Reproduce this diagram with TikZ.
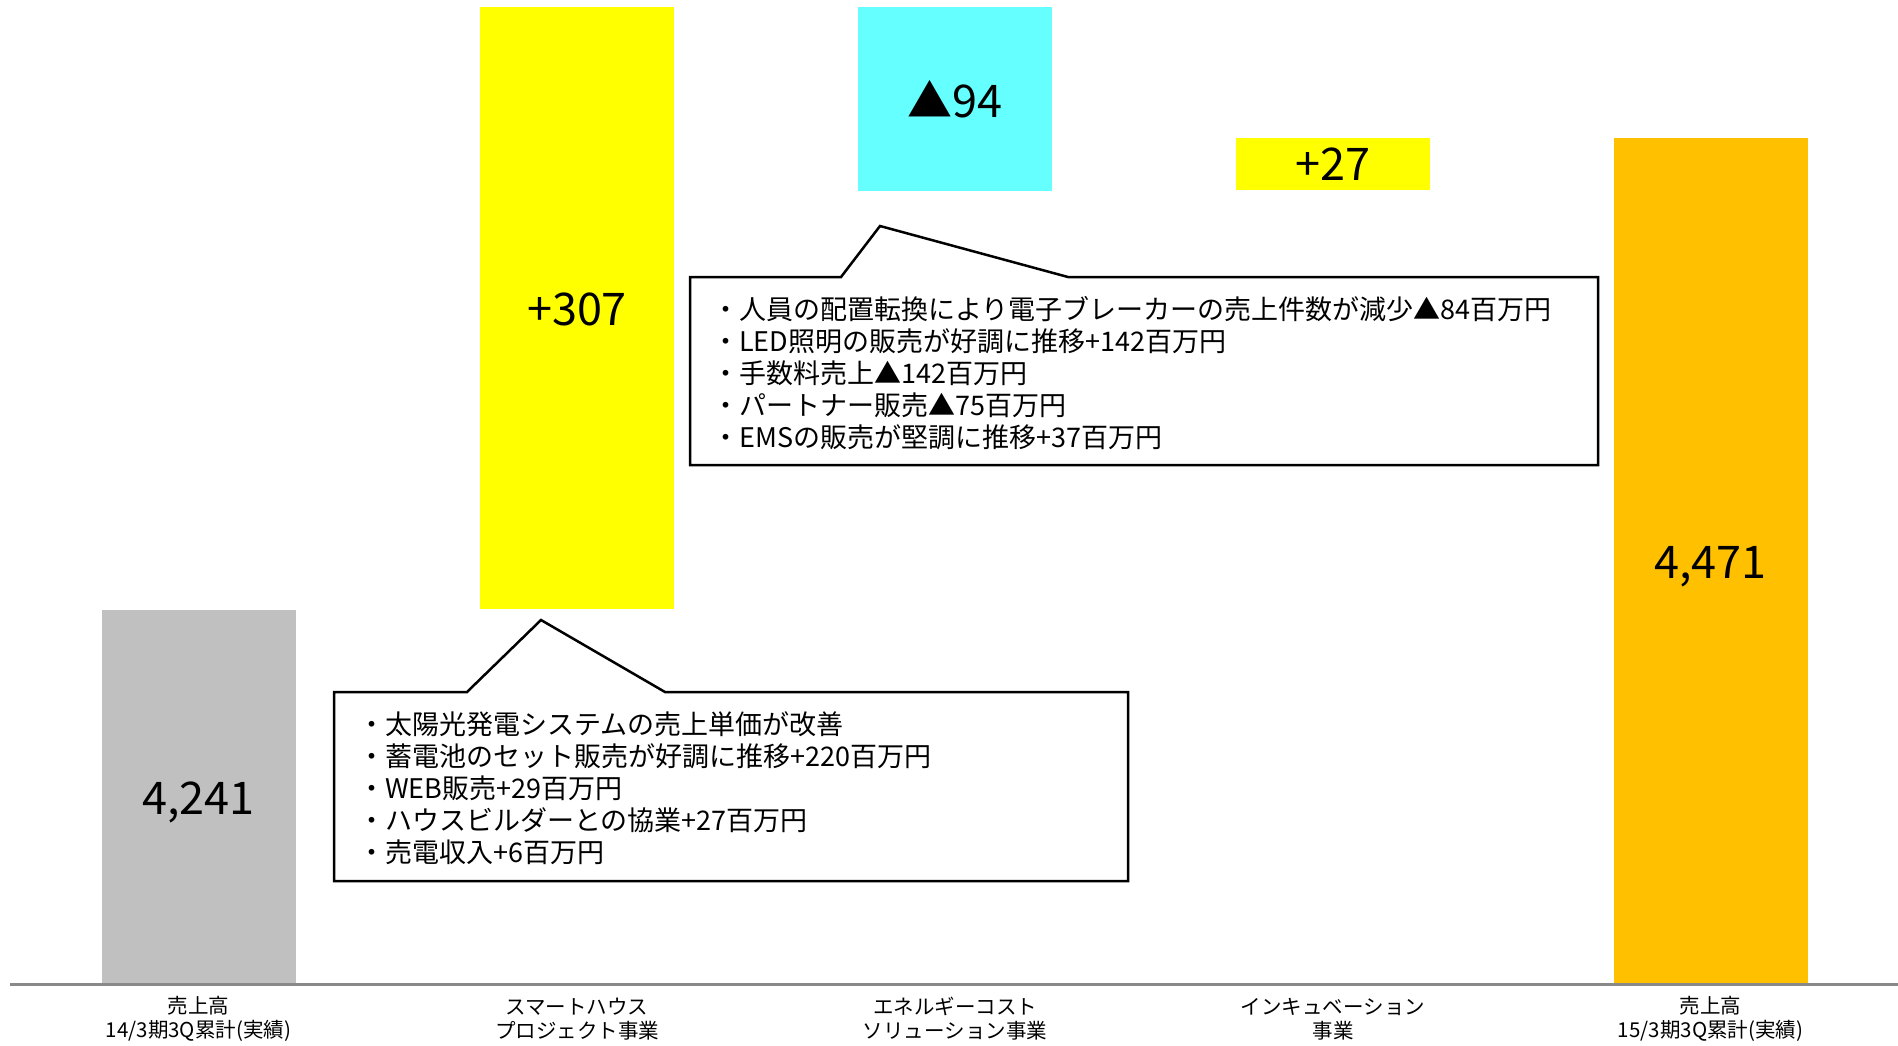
\documentclass[tikz,border=0pt]{standalone}
\usepackage{fontspec}
\setmainfont{Noto Sans CJK JP}
\begin{document}
\begin{tikzpicture}[x=1pt,y=-1pt,
  bar/.style={draw=none,inner sep=0pt,outer sep=0pt,minimum width=194pt},
  val/.style={inner sep=0pt,font=\fontsize{45}{50}\selectfont},
  callout/.style={draw=black,line width=2.5pt,fill=white,line join=miter},
  notes/.style={align=left,inner sep=0pt,anchor=west,font=\fontsize{27}{32}\selectfont},
  axislbl/.style={align=center,inner sep=0pt,font=\fontsize{20.5}{24}\selectfont}]
\definecolor{cgray}{HTML}{C0C0C0}
\definecolor{cyel}{HTML}{FFFF00}
\definecolor{ccyan}{HTML}{66FFFF}
\definecolor{corange}{HTML}{FFC000}
\definecolor{caxis}{HTML}{898989}
\useasboundingbox[fill=white] (0,0) rectangle (1898,1045);
% bars
\node[bar,fill=cgray,minimum height=374pt] (b1) at (198.5,797) {};
\node[bar,fill=cyel,minimum height=602pt] (b2) at (577,308) {};
\node[bar,fill=ccyan,minimum height=184pt] (b3) at (955,99) {};
\node[bar,fill=cyel,minimum height=52pt] (b4) at (1333,164) {};
\node[bar,fill=corange,minimum height=846pt] (b5) at (1710.5,561) {};
\node[val,yshift=-5pt] (v1) at (b1.center) {4,241};
\node[val,yshift=-1pt] (v2) at (b2.center) {+307};
\node[val] (v3) at (b3.center) {▲94};
\node[val] (v4) at (b4.center) {+27};
\node[val,yshift=-6pt] (v5) at (b5.center) {4,471};
% axis
\coordinate (axl) at (10,984);
\coordinate (axr) at (1898,984);
\draw[caxis,line width=3pt] (axl) -- (axr);
% axis labels
\node[axislbl] (l1) at (198.5,1019) {売上高\\14/3期3Q累計(実績)};
\node[axislbl] (l2) at (577,1019) {スマートハウス\\プロジェクト事業};
\node[axislbl] (l3) at (955,1019) {エネルギーコスト\\ソリューション事業};
\node[axislbl] (l4) at (1333,1019) {インキュベーション\\事業};
\node[axislbl] (l5) at (1710.5,1019) {売上高\\15/3期3Q累計(実績)};
% callout 1
\draw[callout] (334,692) -- (467,692) -- (541,620) -- (665,692) -- (1128,692) -- (1128,881) -- (334,881) -- cycle;
\node[notes] (n1) at (358,788.5) {・太陽光発電システムの売上単価が改善\\・蓄電池のセット販売が好調に推移+220百万円\\・WEB販売+29百万円\\・ハウスビルダーとの協業+27百万円\\・売電収入+6百万円};
% callout 2
\draw[callout] (690,277) -- (841,277) -- (880,226) -- (1068,277) -- (1598,277) -- (1598,465) -- (690,465) -- cycle;
\node[notes] (n2) at (712,373.5) {・人員の配置転換により電子ブレーカーの売上件数が減少▲84百万円\\・LED照明の販売が好調に推移+142百万円\\・手数料売上▲142百万円\\・パートナー販売▲75百万円\\・EMSの販売が堅調に推移+37百万円};
\end{tikzpicture}
\end{document}
